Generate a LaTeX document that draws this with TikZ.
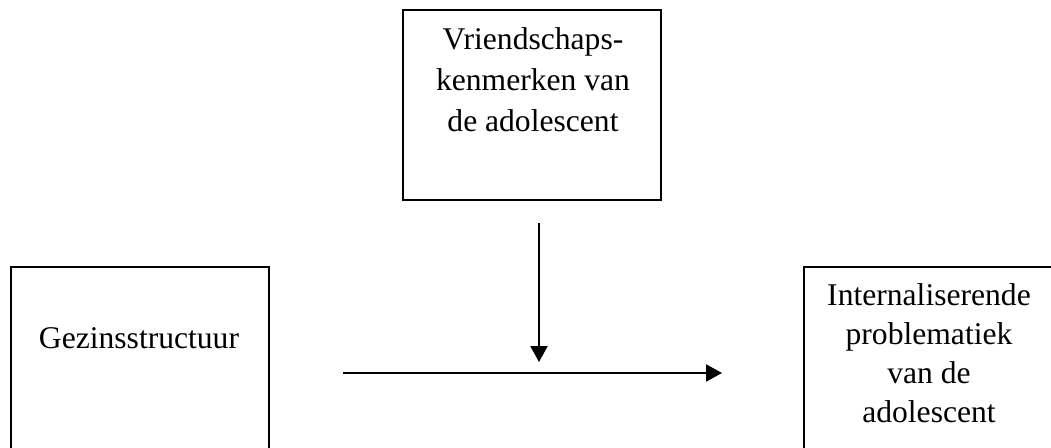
\documentclass[tikz,border=0pt]{standalone}
\usepackage{fontspec}
\setmainfont{Liberation Serif}
\usetikzlibrary{arrows.meta}
\begin{document}
\begin{tikzpicture}[x=1pt,y=-1pt,
  boxshape/.style={draw, line width=1.8pt, minimum width=258pt, inner sep=0pt},
  boxtext/.style={inner sep=0pt, align=center, font=\fontsize{31.6}{40}\selectfont},
  conn/.style={line width=2.2pt, -{Triangle[width=17pt,length=16pt]}}]
\useasboundingbox (0,0) rectangle (1051,447);
\clip (0,0) rectangle (1051,447);
% boxes
\node[boxshape, minimum height=190pt, anchor=north west] (top) at (402,9) {};
\node[boxshape, minimum height=220pt, anchor=north west] (left) at (10,266) {};
\node[boxshape, minimum height=220pt, anchor=north west] (right) at (803,266) {};
% texts
\node[boxtext, anchor=north, font=\fontsize{31.6}{41}\selectfont] (toptext) at (533,27.5) {Vriendschaps-\\kenmerken van\\de adolescent};
\node[boxtext, anchor=base] (lefttext) at (139,348) {Gezinsstructuur};
\node[boxtext, anchor=north, font=\fontsize{31.6}{39}\selectfont] (righttext) at (929,283.5) {Internaliserende\\problematiek\\van de\\adolescent};
% connectors
\coordinate (vstart) at (539,223);
\coordinate (vend) at (539,362);
\coordinate (hstart) at (343,373);
\coordinate (hend) at (722,373);
\draw[conn] (vstart) -- (vend);
\draw[conn] (hstart) -- (hend);
\end{tikzpicture}
\end{document}
